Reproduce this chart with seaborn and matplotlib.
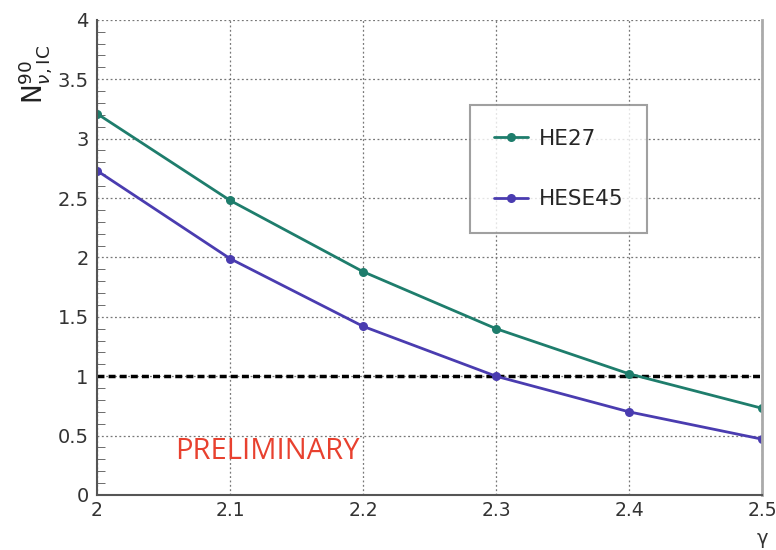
# %% Library imports

import pandas as pd
import seaborn as sns
import matplotlib.pyplot as plt
from matplotlib.ticker import MultipleLocator

# %% Data

gamma = [2.0, 2.1, 2.2, 2.3, 2.4, 2.5]
n_he27 = [3.21, 2.48, 1.88, 1.40, 1.02, 0.73]
n_hese45 = [2.73, 1.99, 1.42, 1.00, 0.70, 0.47]
series_names = ["HE27", "HESE45"]
x_ticks = [2.0, 2.1, 2.2, 2.3, 2.4, 2.5]
x_tick_labels = ["2", "2.1", "2.2", "2.3", "2.4", "2.5"]
y_ticks = [0, 0.5, 1, 1.5, 2, 2.5, 3, 3.5, 4]
y_tick_labels = ["0", "0.5", "1", "1.5", "2", "2.5", "3", "3.5", "4"]

df = pd.DataFrame({
    "gamma": gamma * 2,
    "N": n_he27 + n_hese45,
    "sample": [series_names[0]] * len(gamma) + [series_names[1]] * len(gamma),
})

# %% Plot

sns.set_style("white")
plt.rcParams['font.family'] = ['DejaVu Sans']

fig = plt.figure(figsize=(7.76, 5.5), dpi=100)
ax = fig.add_axes([0.125, 0.1, 0.857, 0.864])

palette = {"HE27": "#1e7d6c", "HESE45": "#4a3cb0"}
sns.lineplot(data=df, x="gamma", y="N", hue="sample", palette=palette,
             marker="o", markersize=6.5, markeredgewidth=0, linewidth=2,
             ax=ax)

ax.axhline(1.0, color="black", linestyle=(0, (2, 1.2)), linewidth=2.5,
           zorder=1)

ax.set_xlim(2.0, 2.5)
ax.set_ylim(0, 4)
ax.set_xticks(x_ticks)
ax.set_xticklabels(x_tick_labels, fontsize=13.5, color="#333333")
ax.set_yticks(y_ticks)
ax.set_yticklabels(y_tick_labels, fontsize=14, color="#333333")
ax.yaxis.set_minor_locator(MultipleLocator(0.1))
ax.tick_params(axis="both", which="major", direction="in", length=12,
               color="#555555", pad=6)
ax.tick_params(axis="x", which="major", pad=4)
ax.tick_params(axis="y", which="minor", direction="in", length=6,
               color="#555555", left=True)
ax.grid(True, which="major", linestyle=(0, (1.5, 2)), color="#777777",
        linewidth=0.9)
for side in ["left", "bottom"]:
    ax.spines[side].set_color("#555555")
    ax.spines[side].set_linewidth(1.5)
ax.spines["top"].set_visible(False)
ax.spines["right"].set_color("#aaaaaa")
ax.spines["right"].set_linewidth(2)

ax.set_xlabel("")
ax.set_ylabel("")
fig.text(0.982, 0.004, "γ", fontsize=14, color="#333333", ha="center",
         va="bottom")
fig.text(0.045, 0.865, r"$\mathrm{N}^{90}_{\nu,\mathrm{IC}}$", fontsize=19,
         rotation=90, ha="center", va="center", color="#222222")

ax.text(0.117, 0.075, "PRELIMINARY", transform=ax.transAxes, fontsize=21,
        color="#e8412f", family=["Open Sans", "DejaVu Sans"])

leg = ax.legend(loc="upper left", bbox_to_anchor=(0.561, 0.821),
                fontsize=15.5, frameon=True, fancybox=False, labelspacing=1.9,
                handlelength=1.6, handletextpad=0.5, borderpad=1.1,
                edgecolor="#888888", borderaxespad=0)
leg.get_frame().set_linewidth(1.5)

plt.savefig("out.png", dpi=100)
